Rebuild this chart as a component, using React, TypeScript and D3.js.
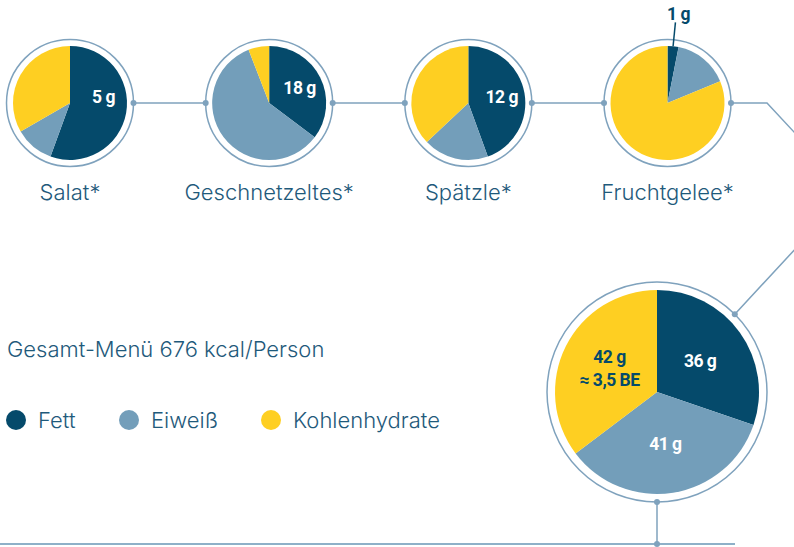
import React, { useEffect, useRef } from 'react';
import * as d3 from 'd3';

// Nährwerte je Gericht (g)
const dishes = ['Salat*', 'Geschnetzeltes*', 'Spätzle*', 'Fruchtgelee*'];
const fett = [5, 18, 12, 1];
const eiweiss = [1, 30, 5, 5];
const kohlenhydrate = [3, 3, 10, 26];

// Gesamt-Menü
const nutrients = ['Fett', 'Eiweiß', 'Kohlenhydrate'];
const totals = [36, 41, 42];
const totalTitle = 'Gesamt-Menü 676 kcal/Person';
const beNote = '≈ 3,5 BE';

const W = 794;
const H = 547;
const colors = ['#054a6b', '#739eba', '#fecf22'];
const lineColor = '#7fa2bd';
const textColor = '#1f5a7b';
const labelFont = 'Roboto, "Liberation Sans", sans-serif';
const bodyFont = 'Inter, "Open Sans", "Liberation Sans", sans-serif';

export default function App() {
  const ref = useRef<SVGSVGElement>(null);

  useEffect(() => {
    const svg = d3.select(ref.current);
    svg.selectAll('*').remove();

    const pie = d3.pie<number>().sort(null).value(d => d);

    // kleine Kreise
    const rSmall = 57;
    const ringSmall = 63.5;
    const cy = 103;
    const x = d3.scalePoint<string>().domain(dishes).range([70, 667.5]);
    const arcSmall = d3.arc<d3.PieArcDatum<number>>().innerRadius(0).outerRadius(rSmall);

    const line = svg.append('g').attr('stroke', lineColor).attr('fill', 'none').attr('stroke-width', 1.5);

    // Verbindungslinien zwischen den Kreisen
    dishes.slice(0, -1).forEach((d, i) => {
      line.append('line')
        .attr('x1', x(d)! + ringSmall).attr('y1', cy)
        .attr('x2', x(dishes[i + 1])! - ringSmall).attr('y2', cy);
    });

    // großer Kreis
    const bigC = [657, 392];
    const rBig = 102;
    const ringBig = 110;
    const lastX = x(dishes[dishes.length - 1])! + ringSmall;
    const a45 = Math.PI / 4;
    const bigDot = [bigC[0] + ringBig * Math.sin(a45), bigC[1] - ringBig * Math.cos(a45)];
    line.append('path')
      .attr('d', d3.line()([[lastX, cy], [767, cy], [849, 191], bigDot as [number, number]]));

    const baseY = 544;
    line.append('line')
      .attr('x1', bigC[0]).attr('y1', bigC[1] + ringBig)
      .attr('x2', bigC[0]).attr('y2', baseY);
    svg.append('line')
      .attr('x1', 0).attr('x2', 735).attr('y1', baseY).attr('y2', baseY)
      .attr('stroke', '#8eb0c8').attr('stroke-width', 2);

    const dots: [number, number][] = [];
    dishes.forEach((d, i) => {
      if (i > 0) dots.push([x(d)! - ringSmall, cy]);
      dots.push([x(d)! + ringSmall, cy]);
    });
    dots.push(bigDot as [number, number], [bigC[0], bigC[1] + ringBig], [bigC[0], baseY]);

    const gLabel = (sel: d3.Selection<SVGTextElement, unknown, null, undefined>) =>
      sel.attr('text-anchor', 'middle')
        .attr('font-family', labelFont).attr('font-weight', 700)
        .attr('font-size', 17.5).attr('letter-spacing', -0.5);

    dishes.forEach((d, i) => {
      const vals = [fett[i], eiweiss[i], kohlenhydrate[i]];
      const g = svg.append('g').attr('transform', `translate(${x(d)},${cy})`);
      g.append('circle').attr('r', ringSmall).attr('fill', '#fff')
        .attr('stroke', lineColor).attr('stroke-width', 1.5);
      const arcs = pie(vals);
      g.selectAll('path.s').data(arcs).enter().append('path')
        .attr('fill', (_, j) => colors[j])
        .attr('d', arcSmall);

      const f = arcs[0];
      const mid = (f.startAngle + f.endAngle) / 2;
      if (f.endAngle - f.startAngle > 0.5) {
        const a = Math.min(mid, 1.4);
        g.append('text')
          .call(gLabel)
          .attr('x', Math.sin(a) * 34).attr('y', -Math.cos(a) * 34 + 6)
          .attr('fill', '#fff')
          .text(`${fett[i]} g`);
      } else {
        g.append('line')
          .attr('x1', Math.sin(mid) * rSmall).attr('y1', -Math.cos(mid) * rSmall)
          .attr('x2', Math.sin(mid) * 81).attr('y2', -Math.cos(mid) * 81)
          .attr('stroke', colors[0]).attr('stroke-width', 1.5);
        g.append('text')
          .call(gLabel)
          .attr('x', Math.sin(mid) * 81 + 3).attr('y', -Math.cos(mid) * 81 - 2)
          .attr('fill', colors[0])
          .text(`${fett[i]} g`);
      }

      g.append('text')
        .attr('y', 97).attr('text-anchor', 'middle')
        .attr('fill', textColor).attr('font-family', bodyFont).attr('font-weight', 300)
        .attr('font-size', 22)
        .text(d);
    });

    // Gesamt-Menü Kreis
    const gb = svg.append('g').attr('transform', `translate(${bigC[0]},${bigC[1]})`);
    gb.append('circle').attr('r', ringBig).attr('fill', '#fff')
      .attr('stroke', lineColor).attr('stroke-width', 1.5);
    const bigArcs = pie(totals);
    const arcBig = d3.arc<d3.PieArcDatum<number>>().innerRadius(0).outerRadius(rBig);
    gb.selectAll('path').data(bigArcs).enter().append('path')
      .attr('fill', (_, j) => colors[j]).attr('d', arcBig);
    const labelArc = d3.arc<d3.PieArcDatum<number>>().innerRadius(rBig * 1.04).outerRadius(0);
    bigArcs.forEach((a, j) => {
      const [lx, ly] = labelArc.centroid(a);
      const t = gb.append('text')
        .call(gLabel)
        .attr('x', lx).attr('y', ly + 6)
        .attr('fill', j === 2 ? colors[0] : '#fff');
      if (j === 2) {
        t.attr('y', ly - 5).text(`${totals[j]} g`);
        gb.append('text')
          .call(gLabel)
          .attr('x', lx).attr('y', ly + 18)
          .attr('fill', colors[0])
          .text(beNote);
      } else {
        t.text(`${totals[j]} g`);
      }
    });

    svg.append('g').selectAll('circle').data(dots).enter().append('circle')
      .attr('cx', d => d[0]).attr('cy', d => d[1]).attr('r', 3)
      .attr('fill', lineColor);

    // Titel und Legende
    svg.append('text')
      .attr('x', 7).attr('y', 357)
      .attr('fill', textColor).attr('font-family', bodyFont).attr('font-weight', 300)
      .attr('font-size', 22)
      .text(totalTitle);

    const legendX = [16, 129, 271];
    const lg = svg.append('g').selectAll('g').data(nutrients).enter().append('g')
      .attr('transform', (_, i) => `translate(${legendX[i]},420)`);
    lg.append('circle').attr('r', 10).attr('fill', (_, i) => colors[i]);
    lg.append('text')
      .attr('x', 22).attr('y', 7.5)
      .attr('fill', textColor).attr('font-family', bodyFont).attr('font-weight', 300)
      .attr('font-size', 22)
      .text(d => d);
  }, []);

  return (
    <svg ref={ref} width={W} height={H}
      style={{ position: 'absolute', left: 0, top: 0, background: '#fff' }} />
  );
}
